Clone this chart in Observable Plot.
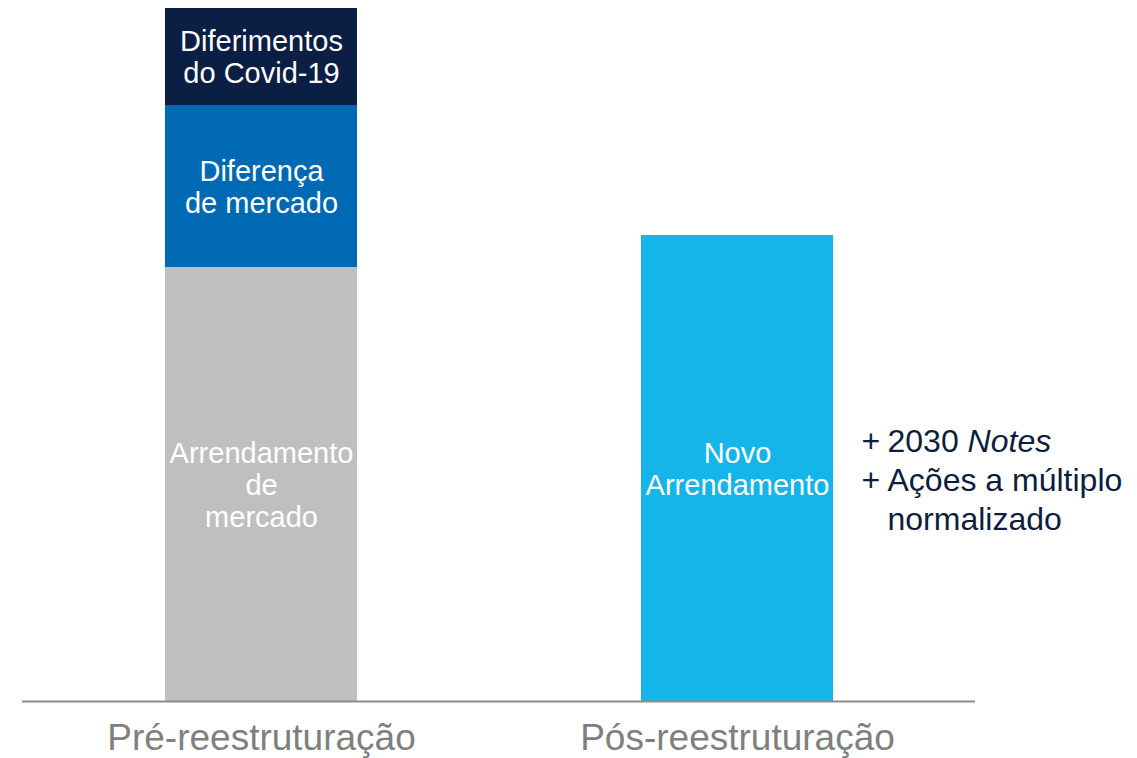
<!DOCTYPE html>
<html>
<head>
<meta charset="utf-8">
<script src="https://cdn.jsdelivr.net/npm/d3@7"></script>
<script src="https://cdn.jsdelivr.net/npm/@observablehq/plot@0.6"></script>
<style>
  html, body { margin: 0; padding: 0; background: #ffffff; }
  #chart svg { display: block; }
  #chart svg text { font-family: "Liberation Sans", Arial, sans-serif; }
</style>
</head>
<body>
<div id="chart"></div>
<script>
const categories = ["Pré-reestruturação", "Pós-reestruturação"];
const segmentNames = ["Arrendamento de mercado", "Diferença de mercado", "Diferimentos do Covid-19", "Novo Arrendamento"];
const segmentCategory = ["Pré-reestruturação", "Pré-reestruturação", "Pré-reestruturação", "Pós-reestruturação"];
const segmentLabels = ["Arrendamento\nde\nmercado", "Diferença\nde mercado", "Diferimentos\ndo Covid-19", "Novo\nArrendamento"];
const segmentValues = [434, 162, 97, 466];
const segmentColors = ["#bfbfbf", "#0069b4", "#0b1e43", "#15b4e9"];
const noteBullets = "+\n+\n";
const noteText = "2030 Notes\nAções a múltiplo\nnormalizado";

const data = segmentNames.map((name, i) => ({
  name,
  category: segmentCategory[i],
  value: segmentValues[i],
  label: segmentLabels[i]
}));
const noteData = data.filter(d => d.category === categories[1]);

const preTotal = d3.sum(data.filter(d => d.category === categories[0]), d => d.value);

const chart = Plot.plot({
  width: 1137,
  height: 758,
  marginLeft: 22,
  marginRight: 162,
  marginTop: 8,
  marginBottom: 57,
  style: { fontFamily: "Liberation Sans", background: "#ffffff" },
  x: { domain: categories, paddingInner: 0.597, paddingOuter: 0.2985, label: null },
  y: { domain: [0, preTotal], axis: null },
  color: { domain: segmentNames, range: segmentColors },
  marks: [
    Plot.barY(data, { x: "category", y: "value", fill: "name", z: "name" }),
    Plot.text(data, Plot.stackY({
      x: "category", y: "value", z: "name", text: "label",
      fill: "white", fontSize: 29, lineHeight: 1.1
    })),
    Plot.text(noteData, Plot.stackY({
      x: "category", y: "value", z: "name", text: () => noteBullets,
      textAnchor: "start", dx: 124, dy: 10,
      fill: "#0d1d3d", fontSize: 32, lineHeight: 1.22
    })),
    Plot.text(noteData, Plot.stackY({
      x: "category", y: "value", z: "name", text: () => noteText,
      textAnchor: "start", dx: 150, dy: 10,
      fill: "#0d1d3d", fontSize: 32, lineHeight: 1.22
    })),
    Plot.ruleY([0], { stroke: "#8c8c8c", strokeWidth: 2 }),
    Plot.axisX({ tickSize: 0, tickPadding: 22, fontSize: 37, fill: "#7f7f7f", label: null })
  ]
});

document.getElementById("chart").appendChild(chart);

// italicise "Notes"
d3.select(chart).selectAll("tspan, text").each(function () {
  if (this.childNodes.length === 1 && this.textContent === "2030 Notes") {
    const el = d3.select(this);
    el.text("2030 ");
    el.append("tspan").attr("font-style", "italic").text("Notes");
  }
});
</script>
</body>
</html>
